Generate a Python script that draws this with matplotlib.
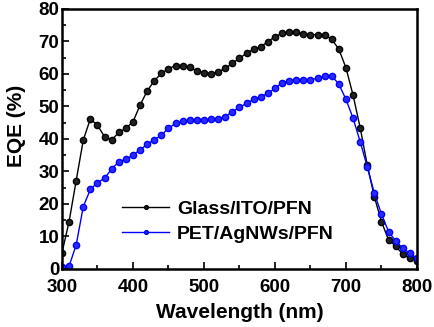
import numpy as np
import matplotlib
matplotlib.use("Agg")
import matplotlib.pyplot as plt
from matplotlib.ticker import MultipleLocator

plt.rcParams['font.family'] = ['Liberation Sans', 'DejaVu Sans']
plt.rcParams['font.weight'] = 'bold'

wavelength = list(range(300, 801, 10))

glass_ito = [5.0, 14.6, 27.2, 39.7, 46.2, 44.2, 40.7, 39.7, 42.0, 43.3,
             45.3, 50.4, 54.8, 57.9, 60.2, 61.6, 62.6, 62.6, 62.1, 60.9,
             60.4, 60.1, 60.6, 61.7, 63.3, 64.8, 66.4, 67.6, 68.4, 69.9,
             71.5, 72.5, 73.0, 72.8, 72.3, 72.1, 72.1, 72.0, 70.7, 67.6,
             61.9, 53.5, 43.5, 32.0, 22.2, 14.6, 8.9, 7.1, 4.5, 3.3, 2.5]

pet_agnws = [0.7, 0.9, 7.4, 19.2, 24.5, 26.6, 27.9, 30.8, 33.0, 33.7,
             35.1, 36.6, 38.4, 39.7, 41.2, 43.3, 44.8, 45.5, 45.8, 45.8,
             45.9, 46.0, 46.3, 46.9, 48.4, 49.7, 51.0, 52.2, 53.0, 54.0,
             55.6, 57.3, 57.9, 58.2, 58.2, 58.2, 58.7, 59.4, 59.4, 56.9,
             52.2, 46.4, 39.2, 31.5, 23.3, 16.9, 11.5, 8.6, 6.4, 4.8, 3.3]

fig = plt.figure(figsize=(4.35, 3.27), dpi=100)
ax = fig.add_axes([0.1425, 0.1774, 0.816, 0.7951])

ax.plot(wavelength, glass_ito, color='black', lw=1.0, marker='o', ms=4.5,
        mfc='#222222', mec='black', label='Glass/ITO/PFN')
ax.plot(wavelength, pet_agnws, color='blue', lw=1.0, marker='o', ms=4.5,
        mfc='#2a2aff', mec='blue', label='PET/AgNWs/PFN')

ax.set_xlim(300, 800)
ax.set_ylim(0, 80)
ax.xaxis.set_major_locator(MultipleLocator(100))
ax.xaxis.set_minor_locator(MultipleLocator(50))
ax.yaxis.set_major_locator(MultipleLocator(10))
ax.yaxis.set_minor_locator(MultipleLocator(5))
ax.tick_params(which='both', direction='in', top=False, right=False, width=1.2)
ax.tick_params(which='major', length=5, labelsize=13.5)
ax.tick_params(axis='x', which='major', pad=7)
ax.tick_params(axis='y', which='major', pad=2)
ax.tick_params(which='minor', length=3)
for lab in ax.get_xticklabels() + ax.get_yticklabels():
    lab.set_fontweight('bold')
for sp in ax.spines.values():
    sp.set_linewidth(1.8)

ax.set_xlabel('Wavelength (nm)', fontsize=15, fontweight='bold')
ax.set_ylabel('EQE (%)', fontsize=15, fontweight='bold')
ax.xaxis.set_label_coords(0.5, -0.13)
ax.yaxis.set_label_coords(-0.1, 0.55)

leg = ax.legend(loc='upper left', bbox_to_anchor=(0.17, 0.265), frameon=False,
                fontsize=14, markerscale=0.6, handlelength=2.4, handletextpad=0.4,
                labelspacing=0.38, borderaxespad=0, borderpad=0)
for t in leg.get_texts():
    t.set_fontweight('bold')

fig.savefig('out.png', dpi=100)
